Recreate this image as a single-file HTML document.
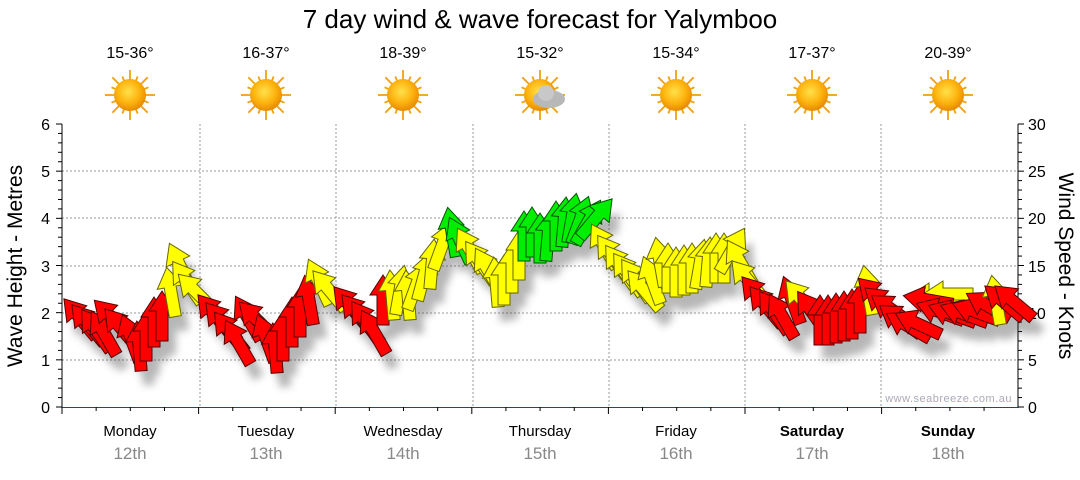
<!DOCTYPE html>
<html><head><meta charset="utf-8"><style>
body{margin:0;background:#fff;width:1080px;height:475px;overflow:hidden;font-family:"Liberation Sans",sans-serif}
</style></head><body>
<svg width="1080" height="475" xmlns="http://www.w3.org/2000/svg" font-family="Liberation Sans, sans-serif">
<defs>
<radialGradient id="sg" cx="45%" cy="40%" r="60%"><stop offset="0" stop-color="#ffe14a"/><stop offset="0.6" stop-color="#fdb20e"/><stop offset="1" stop-color="#e68a00"/></radialGradient>
<filter id="sh" x="-50%" y="-50%" width="200%" height="200%"><feGaussianBlur stdDeviation="4"/></filter>
</defs>
<text x="540" y="28" font-size="26" text-anchor="middle" fill="#000">7 day wind &amp; wave forecast for Yalymboo</text>
<g id="temps" font-size="16" text-anchor="middle" fill="#000">
<text x="130" y="58">15-36°</text><text x="266" y="58">16-37°</text><text x="403" y="58">18-39°</text><text x="540" y="58">15-32°</text><text x="676" y="58">15-34°</text><text x="812" y="58">17-37°</text><text x="948" y="58">20-39°</text>
</g>
<g id="suns"></g>
<g stroke="#999" stroke-dasharray="2,2" stroke-width="1">
<line x1="62" x2="1018" y1="171" y2="171"/><line x1="62" x2="1018" y1="218" y2="218"/><line x1="62" x2="1018" y1="266" y2="266"/><line x1="62" x2="1018" y1="313" y2="313"/><line x1="62" x2="1018" y1="360" y2="360"/>
<line x1="200" x2="200" y1="124" y2="407"/><line x1="336" x2="336" y1="124" y2="407"/><line x1="473" x2="473" y1="124" y2="407"/><line x1="609" x2="609" y1="124" y2="407"/><line x1="745" x2="745" y1="124" y2="407"/><line x1="881" x2="881" y1="124" y2="407"/>
</g>
<line x1="62" x2="62" y1="124" y2="408" stroke="#000"/>
<line x1="1018" x2="1018" y1="124" y2="408" stroke="#000"/>
<line x1="62" x2="1018" y1="407.5" y2="407.5" stroke="#1a4a7a"/>
<g id="ticks" stroke="#000"></g>
<g font-size="16" fill="#000" text-anchor="end">
<text x="50" y="130">6</text><text x="50" y="177">5</text><text x="50" y="224">4</text><text x="50" y="272">3</text><text x="50" y="319">2</text><text x="50" y="366">1</text><text x="50" y="413">0</text>
</g>
<g font-size="16" fill="#000">
<text x="1028" y="130">30</text><text x="1028" y="177">25</text><text x="1028" y="224">20</text><text x="1028" y="272">15</text><text x="1028" y="319">10</text><text x="1028" y="366">5</text><text x="1028" y="413">0</text>
</g>
<text transform="translate(22,266) rotate(-90)" font-size="21" text-anchor="middle">Wave Height - Metres</text>
<text transform="translate(1059,266) rotate(90)" font-size="21" text-anchor="middle">Wind Speed - Knots</text>
<text x="1012" y="402" font-size="11" fill="#aab" text-anchor="end" letter-spacing="0.5">www.seabreeze.com.au</text>
<g font-size="15" text-anchor="middle" fill="#000">
<text x="130" y="436">Monday</text><text x="266" y="436">Tuesday</text><text x="403" y="436">Wednesday</text><text x="540" y="436">Thursday</text><text x="676" y="436">Friday</text><text x="812" y="436" font-weight="bold">Saturday</text><text x="948" y="436" font-weight="bold">Sunday</text>
</g>
<g font-size="17" text-anchor="middle" fill="#888">
<text x="130" y="459">12th</text><text x="266" y="459">13th</text><text x="403" y="459">14th</text><text x="540" y="459">15th</text><text x="676" y="459">16th</text><text x="812" y="459">17th</text><text x="948" y="459">18th</text>
</g>
<g id="shadows" filter="url(#sh)" opacity="0.35"></g>
<g id="arrows"></g>
<script>
var NS="http://www.w3.org/2000/svg";
function el(t,a,p){var e=document.createElementNS(NS,t);for(var k in a)e.setAttribute(k,a[k]);p.appendChild(e);return e;}
var tk=document.getElementById('ticks');
for(var i=0;i<=30;i++){var y=407-i*283/30;el('line',{x1:i%5?58:56,x2:62,y1:y,y2:y},tk);el('line',{x1:1018,x2:i%5?1022:1024,y1:y,y2:y},tk);}
for(var d=0;d<7;d++)for(var j=0;j<4;j++){var x=62+d*136.6+j*34.15;el('line',{x1:x,x2:x,y1:407,y2:j?411:414},tk);}
var sg=document.getElementById('suns');
[130,266,403,540,676,812,948].forEach(function(x,i){var y=95;var g=el('g',{},sg);
for(var r=0;r<16;r++){var a=r*Math.PI/8;el('line',{x1:x+Math.cos(a)*14,y1:y+Math.sin(a)*14,x2:x+Math.cos(a)*(r%2?20:25),y2:y+Math.sin(a)*(r%2?20:25),stroke:'#f0a010','stroke-width':1.8},g);}
el('circle',{cx:x,cy:y,r:16,fill:'url(#sg)'},g);
if(i==3){el('ellipse',{cx:x+9,cy:y+4,rx:16,ry:9,fill:'#b8b8b8'},g);el('circle',{cx:x+6,cy:y-2,r:8,fill:'#c8c8c8'},g);}
});
var R='#ff0000',Y='#ffff00',G='#00ee00';
var A=[
[80,318,-40,R],[88,324,-40,R],[96,330,-35,R],[104,333,-30,R],[112,318,-45,R],[121,328,-40,R],[131,338,-20,R],[139,346,-5,R],[146,336,0,R],[154,322,0,R],[162,316,0,R],[171,292,-10,Y],[180,266,-25,Y],[187,282,-35,Y],[196,292,-45,Y],
[214,314,-40,R],[222,322,-40,R],[230,332,-38,R],[238,342,-30,R],[248,318,-30,R],[257,320,-45,R],[266,338,-20,R],[275,348,-5,R],[283,336,0,R],[292,322,0,R],[300,312,0,R],[309,300,-10,R],[319,282,-25,Y],[329,290,-40,Y],
[350,306,-40,R],[358,314,-40,R],[366,322,-35,R],[374,332,-30,R],[383,300,0,R],[392,295,-5,Y],[400,290,10,Y],[408,295,-5,Y],[416,286,20,Y],[424,276,15,Y],[432,264,5,Y],[442,246,20,Y],[452,232,-10,G],[460,240,-25,G],[470,250,-30,Y],[480,262,-35,Y],[488,270,-30,Y],[496,282,-5,Y],[504,280,0,Y],[512,268,0,Y],[519,255,0,Y],
[524,236,0,G],[532,232,0,G],[540,238,0,G],[548,236,5,G],[556,226,0,G],[564,222,5,G],[572,218,10,G],[580,220,20,G],[588,222,30,G],[596,218,40,G],[604,246,-30,Y],[612,256,-35,Y],[620,266,-35,Y],[628,274,-35,Y],[636,280,-35,Y],[644,290,-40,Y],[652,280,-20,Y],[660,262,-10,Y],[668,268,0,Y],[676,272,0,Y],[684,270,0,Y],[692,268,0,Y],[700,264,10,Y],[708,262,5,Y],[716,258,0,Y],[724,258,0,Y],[732,250,30,Y],[740,262,-30,Y],[748,280,-40,Y],
[758,296,-40,R],[766,306,-40,R],[774,312,-35,R],[782,316,-30,R],[792,300,-20,R],[802,300,-40,Y],[812,312,-35,R],[820,320,0,R],[828,320,0,R],[836,318,0,R],[844,316,0,R],[852,314,0,R],[860,308,0,R],[868,290,-10,Y],[876,296,-45,R],[884,304,-50,R],[892,310,-55,R],[900,320,-55,R],[908,326,-60,R],[918,324,-65,R],
[934,296,-90,Y],[948,294,-90,Y],[928,300,-80,R],[940,312,-70,R],[952,314,-70,R],[964,314,-70,R],[976,312,-70,R],[988,306,-60,R],[996,300,-10,Y],[1004,302,-50,R],[1014,302,-50,R]
];
var sh=document.getElementById('shadows'),ar=document.getElementById('arrows');
var pts="-6,25 6,25 6,-5 13,-5 0,-25 -13,-5 -6,-5";
A.forEach(function(a){
el('polygon',{points:pts,fill:'#333',transform:'translate('+(a[0]+8)+','+(a[1]+14)+') rotate('+a[2]+')'},sh);
el('polygon',{points:pts,fill:a[3],stroke:a[3]==Y?'#666600':(a[3]==G?'#005500':'#550000'),'stroke-width':1,transform:'translate('+a[0]+','+a[1]+') rotate('+a[2]+')'},ar);
});
</script>
</svg>
</body></html>
